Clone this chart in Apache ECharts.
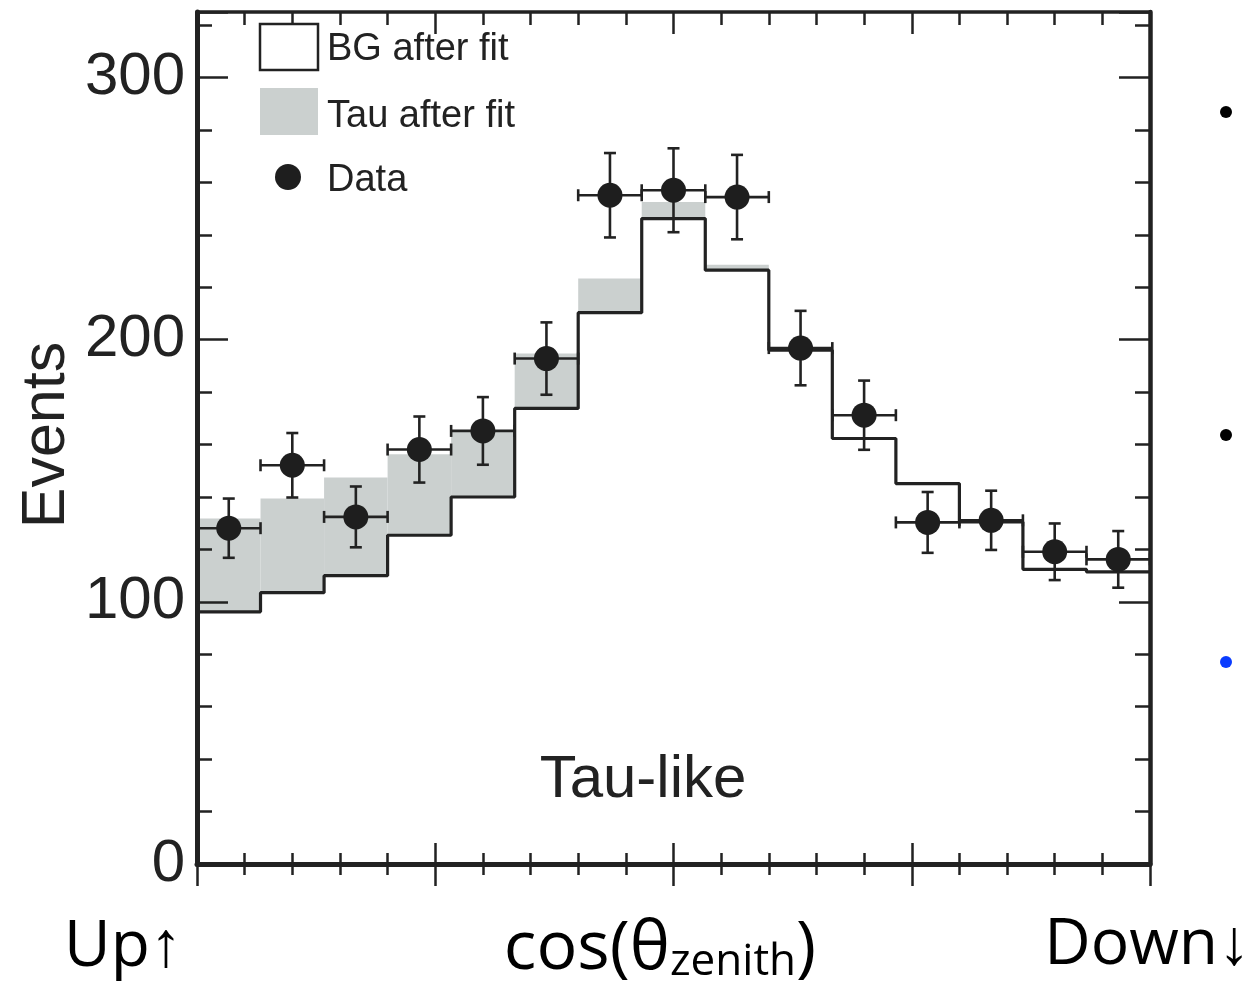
<!DOCTYPE html>
<html><head><meta charset="utf-8">
<script src="https://cdn.jsdelivr.net/npm/echarts@6/dist/echarts.min.js"></script>
<style>html,body{margin:0;padding:0;background:#fff}#c{width:1252px;height:986px}</style>
</head><body><div id="c"></div>
<script>
// ---- data ----
const binEdges = [-1, -0.8667, -0.7333, -0.6, -0.4667, -0.3333, -0.2, -0.0667, 0.0667, 0.2, 0.3333, 0.4667, 0.6, 0.7333, 0.8667, 1];
const bgAfterFit  = [96.2, 103.5, 110, 125.4, 140, 173.8, 210.3, 246.2, 226.5, 196, 162.3, 145.1, 130.5, 112.4, 111.4];
const tauAfterFit = [35.6, 35.9, 37.4, 30.9, 25.5, 20.9, 13, 6.3, 2.1, 0.8, 0, 0, 0.5, 0, 0];
const dataEvents  = [128.1, 152.1, 132.4, 158.1, 165.2, 192.8, 255.1, 257, 254.4, 196.8, 171.2, 130.3, 131.1, 119.1, 116.2];
const dataErr     = [11.3, 12.3, 11.6, 12.6, 12.9, 13.8, 16.1, 16.0, 16.1, 14.2, 13.2, 11.6, 11.3, 10.8, 10.8];
const yTickLabels = [0, 100, 200, 300];
const legendLabels = ['BG after fit', 'Tau after fit', 'Data'];
const panelLabel = 'Tau-like';
const yTitle = 'Events';

// ---- chart ----
const INK = '#222';
const GRAY = '#cbd0cf';
const FONT = '"Liberation Sans", Arial, Helvetica, sans-serif';
const SLIDE_FONT = '"Open Sans", "Noto Sans", sans-serif';

const histData = bgAfterFit.map((b, i) => [binEdges[i], binEdges[i + 1], b, tauAfterFit[i]]);
const stepData = binEdges.map((e, i) => [e, bgAfterFit[Math.min(i, bgAfterFit.length - 1)]]);
const pointData = dataEvents.map((v, i) => [(binEdges[i] + binEdges[i + 1]) / 2, v, dataErr[i], binEdges[i], binEdges[i + 1]]);

const chart = echarts.init(document.getElementById('c'), null, {renderer: 'canvas'});

function xAxisDef(grid, pos, inside, showLine, lineW, majLen, minLen) {
  return {
    gridIndex: grid,
    type: 'value', min: -1, max: 1, interval: 0.5, position: pos, z: 10,
    axisLine: {show: showLine, onZero: false, lineStyle: {color: INK, width: lineW}},
    axisTick: {show: true, inside: inside, length: majLen, lineStyle: {color: INK, width: 2.5}},
    minorTick: {show: true, splitNumber: 5, length: minLen, lineStyle: {color: INK, width: 2.5}},
    axisLabel: {show: false}, splitLine: {show: false}
  };
}
function yAxisDef(grid, pos, show, showLabel, lineW) {
  return {
    gridIndex: grid, show: show,
    type: 'value', min: 0, max: 325, interval: 100, position: pos, z: 10,
    axisLine: {show: true, onZero: false, lineStyle: {color: INK, width: lineW}},
    axisTick: {show: true, inside: true, length: 31, lineStyle: {color: INK, width: 2.5}},
    minorTick: {show: true, splitNumber: 5, length: 15, lineStyle: {color: INK, width: 2.5}},
    axisLabel: {show: showLabel, fontSize: 60, fontFamily: FONT, color: INK, margin: 12,
      showMaxLabel: false,
      formatter: v => (yTickLabels.indexOf(v) >= 0 ? String(v) : '')},
    splitLine: {show: false}
  };
}

const gridBox = {left: 197, right: 102, top: 12, bottom: 122, containLabel: false, outerBoundsMode: 'none'};

const option = {
  animation: false,
  backgroundColor: '#fff',
  grid: [Object.assign({}, gridBox), Object.assign({}, gridBox)],
  xAxis: [
    xAxisDef(0, 'bottom', false, true, 5, 22, 11),
    xAxisDef(0, 'top', true, true, 3.5, 22, 13),
    xAxisDef(1, 'bottom', true, false, 5, 21, 11)
  ],
  yAxis: [
    yAxisDef(0, 'left', true, true, 5),
    yAxisDef(0, 'right', true, false, 4.5),
    yAxisDef(1, 'left', false, false, 5)
  ],
  series: [
    {
      name: legendLabels[1], type: 'custom', xAxisIndex: 0, yAxisIndex: 0, z: 1,
      data: histData, encode: {x: [0, 1], y: [2]},
      renderItem: function (params, api) {
        const lo = api.value(0), hi = api.value(1), b = api.value(2), t = api.value(3);
        const p1 = api.coord([lo, b + t]), p2 = api.coord([hi, b]);
        return {type: 'rect', shape: {x: p1[0], y: p1[1], width: p2[0] - p1[0], height: p2[1] - p1[1]},
                style: {fill: GRAY}};
      }
    },
    {
      name: legendLabels[0], type: 'line', xAxisIndex: 0, yAxisIndex: 0, z: 2,
      data: stepData, step: 'end', symbol: 'none',
      lineStyle: {color: INK, width: 3.2}
    },
    {
      name: legendLabels[2] + ' errors', type: 'custom', xAxisIndex: 0, yAxisIndex: 0, z: 3,
      data: pointData, encode: {x: [0], y: [1]},
      renderItem: function (params, api) {
        const x = api.value(0), y = api.value(1), e = api.value(2), lo = api.value(3), hi = api.value(4);
        const t = api.coord([x, y + e]), b = api.coord([x, y - e]);
        const l = api.coord([lo, y]), r = api.coord([hi, y]);
        const cw = 6;
        const st = () => ({stroke: INK, lineWidth: 2.6});
        return {type: 'group', children: [
          {type: 'line', shape: {x1: t[0], y1: t[1], x2: b[0], y2: b[1]}, style: st()},
          {type: 'line', shape: {x1: t[0] - cw, y1: t[1], x2: t[0] + cw, y2: t[1]}, style: st()},
          {type: 'line', shape: {x1: b[0] - cw, y1: b[1], x2: b[0] + cw, y2: b[1]}, style: st()},
          {type: 'line', shape: {x1: l[0], y1: l[1], x2: r[0], y2: r[1]}, style: st()},
          {type: 'line', shape: {x1: l[0], y1: l[1] - cw, x2: l[0], y2: l[1] + cw}, style: st()},
          {type: 'line', shape: {x1: r[0], y1: r[1] - cw, x2: r[0], y2: r[1] + cw}, style: st()}
        ]};
      }
    },
    {
      name: legendLabels[2], type: 'scatter', xAxisIndex: 0, yAxisIndex: 0, z: 4,
      data: pointData.map(p => [p[0], p[1]]),
      symbol: 'circle', symbolSize: 25,
      itemStyle: {color: '#1e1e1e', opacity: 1}
    }
  ],
  graphic: [
    // legend
    {type: 'rect', shape: {x: 260, y: 24, width: 58, height: 46}, style: {fill: '#fff', stroke: INK, lineWidth: 2.5}, z: 20},
    {type: 'rect', shape: {x: 260, y: 88, width: 58, height: 47}, style: {fill: GRAY}, z: 20},
    {type: 'circle', shape: {cx: 288, cy: 177, r: 13}, style: {fill: '#1e1e1e'}, z: 20},
    {type: 'text', x: 327, y: 50, style: {text: legendLabels[0], font: '38px ' + FONT, fill: INK, textVerticalAlign: 'middle'}, z: 20},
    {type: 'text', x: 327, y: 117, style: {text: legendLabels[1], font: '38px ' + FONT, fill: INK, textVerticalAlign: 'middle'}, z: 20},
    {type: 'text', x: 327, y: 181, style: {text: legendLabels[2], font: '38px ' + FONT, fill: INK, textVerticalAlign: 'middle'}, z: 20},
    // panel label
    {type: 'text', x: 643, y: 780, style: {text: panelLabel, font: '60px ' + FONT, fill: INK, textAlign: 'center', textVerticalAlign: 'middle'}, z: 20},
    // y title
    {type: 'text', x: 47, y: 435, rotation: Math.PI / 2, style: {text: yTitle, font: '61px ' + FONT, fill: INK, textAlign: 'center', textVerticalAlign: 'middle'}, z: 20},
    // slide texts
    {type: 'text', x: 64, y: 948, style: {text: 'Up\u2191', font: '64px ' + SLIDE_FONT, fill: '#000', textAlign: 'left', textVerticalAlign: 'middle'}, z: 20},
    {type: 'text', x: 1250, y: 946, style: {text: 'Down\u2193', font: '64px ' + SLIDE_FONT, fill: '#000', textAlign: 'right', textVerticalAlign: 'middle'}, z: 20},
    {type: 'text', x: 660, y: 946, style: {
      text: '{a|cos(\u03b8}{b|zenith}{a|)}', textAlign: 'center', textVerticalAlign: 'middle',
      rich: {
        a: {font: '68px ' + SLIDE_FONT, fill: '#000', lineHeight: 76, verticalAlign: 'bottom'},
        b: {font: '44px ' + SLIDE_FONT, fill: '#000', lineHeight: 50, verticalAlign: 'bottom'}
      }}, z: 20},
    // slide bullets
    {type: 'circle', shape: {cx: 1226, cy: 112, r: 6}, style: {fill: '#000'}, z: 20},
    {type: 'circle', shape: {cx: 1226, cy: 435, r: 6}, style: {fill: '#000'}, z: 20},
    {type: 'circle', shape: {cx: 1226, cy: 662, r: 6}, style: {fill: '#0a3cff'}, z: 20}
  ]
};
chart.setOption(option);
</script>
</body></html>
